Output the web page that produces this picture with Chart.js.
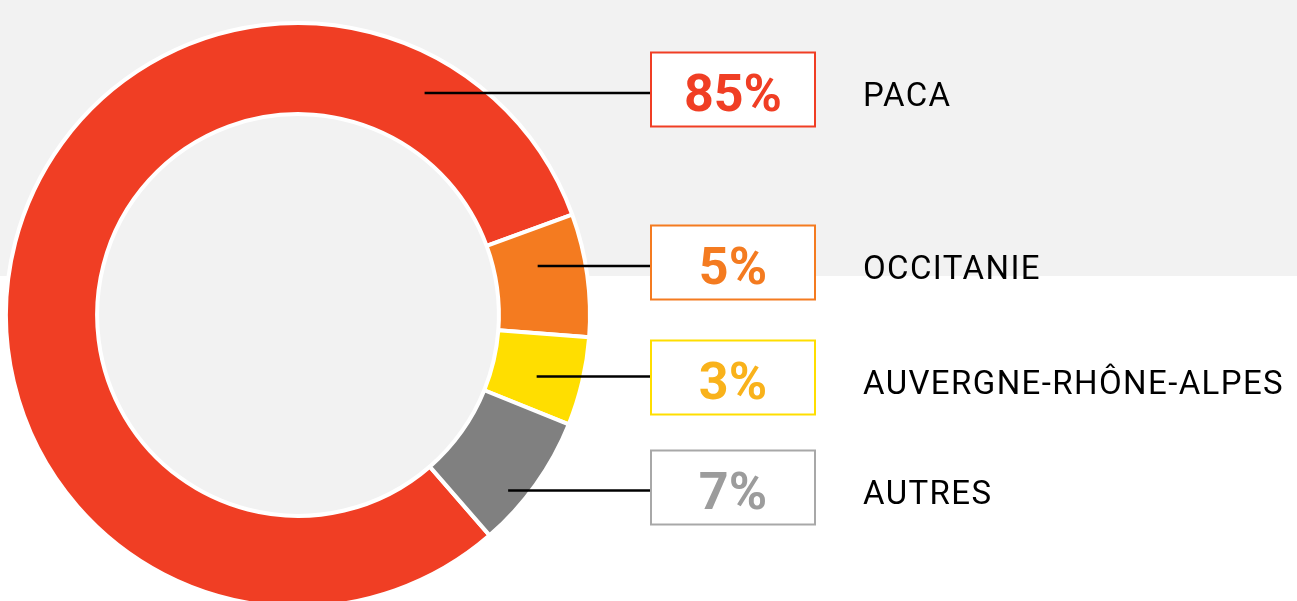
<!DOCTYPE html>
<html>
<head>
<meta charset="utf-8">
<script src="https://cdn.jsdelivr.net/npm/chart.js@4/dist/chart.umd.min.js"></script>
<style>
  html, body { margin: 0; padding: 0; overflow: hidden; background: #fff; }
  #wrap { width: 1297px; height: 601px; overflow: hidden; }
</style>
</head>
<body>
<div id="wrap"><canvas id="donut" width="1297" height="640"></canvas></div>
<script>
const regions = ["PACA", "OCCITANIE", "AUVERGNE-RHÔNE-ALPES", "AUTRES"];
const shareLabels = ["85%", "5%", "3%", "7%"];
// slice sizes as drawn in the picture (degrees of arc / 3.6)
const arcShares = [80.8, 6.8, 4.9, 7.5];

const sliceColors = ["#f03e24", "#f47b20", "#ffde00", "#808080"];
const boxColors = ["#f03e24", "#f47b20", "#ffde00", "#a8a8a8"];
const textColors = ["#f03e24", "#f47b20", "#f9b21b", "#9c9c9c"];

// callout layout: box centres, leader heights, how deep in the ring a leader starts
const boxCenterY = [89.5, 262.5, 377.5, 487.5];
const leaderY = [93, 266, 376.5, 490.5];
const leaderDepth = [0.6, 0.48, 0.5, 0.8];

const callouts = {
  id: 'callouts',
  beforeDraw(chart) {
    const ctx = chart.ctx;
    const a = chart.getDatasetMeta(0).data[0];
    ctx.save();
    ctx.fillStyle = '#ffffff';
    ctx.fillRect(0, 0, chart.width, chart.height);
    ctx.fillStyle = '#f2f2f2';
    ctx.fillRect(0, 0, chart.width, 276);
    ctx.beginPath();
    ctx.arc(a.x, a.y, a.innerRadius, 0, Math.PI * 2);
    ctx.fill();
    ctx.restore();
  },
  afterDatasetsDraw(chart) {
    const ctx = chart.ctx;
    const arcs = chart.getDatasetMeta(0).data;
    const boxX = 651, boxW = 164, boxH = 74, labelX = 863;
    ctx.save();
    regions.forEach((name, i) => {
      const a = arcs[i];
      const r = a.innerRadius + leaderDepth[i] * (a.outerRadius - a.innerRadius);
      const dy = leaderY[i] - a.y;
      const x0 = a.x + Math.sqrt(Math.max(r * r - dy * dy, 0));

      ctx.strokeStyle = '#000';
      ctx.lineWidth = 2.6;
      ctx.beginPath();
      ctx.moveTo(x0, leaderY[i]);
      ctx.lineTo(boxX, leaderY[i]);
      ctx.stroke();

      const top = boxCenterY[i] - boxH / 2;
      ctx.fillStyle = '#fff';
      ctx.fillRect(boxX, top, boxW, boxH);
      ctx.strokeStyle = boxColors[i];
      ctx.lineWidth = 2;
      ctx.strokeRect(boxX, top, boxW, boxH);

      ctx.fillStyle = textColors[i];
      ctx.font = 'bold 52px Roboto';
      ctx.textAlign = 'center';
      ctx.textBaseline = 'alphabetic';
      ctx.fillText(shareLabels[i], boxX + boxW / 2, boxCenterY[i] + 21.5);

      ctx.fillStyle = '#000';
      ctx.font = '33px Roboto';
      ctx.textAlign = 'left';
      ctx.letterSpacing = '1.4px';
      ctx.fillText(name, labelX, boxCenterY[i] + 16.8);
      ctx.letterSpacing = '0px';
    });
    ctx.restore();
  }
};

new Chart(document.getElementById('donut'), {
  type: 'doughnut',
  data: {
    labels: regions,
    datasets: [{
      data: arcShares,
      backgroundColor: sliceColors,
      borderColor: '#ffffff',
      borderWidth: 4
    }]
  },
  options: {
    responsive: false,
    animation: false,
    events: [],
    rotation: 139,
    radius: 292,
    cutout: '68.8%',
    layout: { padding: { left: 6, top: 23, right: 707, bottom: 33 } },
    plugins: {
      legend: { display: false },
      tooltip: { enabled: false }
    }
  },
  plugins: [callouts]
});
</script>
</body>
</html>
